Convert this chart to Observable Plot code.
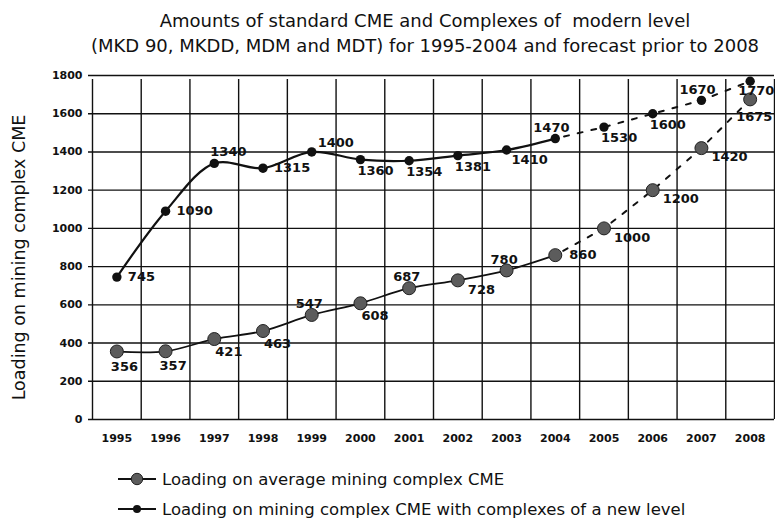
<!DOCTYPE html>
<html>
<head>
<meta charset="utf-8">
<script src="https://cdn.jsdelivr.net/npm/d3@7"></script>
<script src="https://cdn.jsdelivr.net/npm/@observablehq/plot@0.6"></script>
<style>
  body { margin: 0; background: #fff; font-family: "DejaVu Sans", sans-serif; color: #111; }
  #title { width: 775px; height: 58px; box-sizing: border-box; padding: 8px 0 0 75px; text-align: center; font-size: 18px; line-height: 25px; white-space: pre; }
  #legend { padding-top: 16px; }
  .item { display: flex; align-items: center; height: 30px; font-size: 16.5px; }
  .item svg { margin-left: 118px; margin-right: 5px; }
</style>
</head>
<body>
<div id="title">Amounts of standard CME and Complexes of  modern level
(MKD 90, MKDD, MDM and MDT) for 1995-2004 and forecast prior to 2008</div>
<div id="chart"></div>
<div id="legend"></div>
<script>
// ---- data ----
const years = [1995, 1996, 1997, 1998, 1999, 2000, 2001, 2002, 2003, 2004, 2005, 2006, 2007, 2008];
const avgLoad = [356, 357, 421, 463, 547, 608, 687, 728, 780, 860, 1000, 1200, 1420, 1675];
const newLoad = [745, 1090, 1340, 1315, 1400, 1360, 1354, 1381, 1410, 1470, 1530, 1600, 1670, 1770];
const lastActual = 2004;
const yTicks = [0, 200, 400, 600, 800, 1000, 1200, 1400, 1600, 1800];
const seriesNames = ["Loading on average mining complex CME", "Loading on mining complex CME with complexes of a new level"];
const yLabel = "Loading on mining complex CME";

// ---- label placement (layout) ----
const placeAvg = ["b", "b", "bs", "bs", "a", "bs", "a", "br", "a", "r", "br", "br", "br", "be"];
const placeNew = ["r", "r", "a", "r", "ar", "b", "b", "b", "br", "al", "b", "b", "al", "bl"];
const offsAvg = { b: [-6, 15], bs: [1, 13], a: [-16, -11], br: [10, 9], r: [14, 0], be: [-14, 17] };
const offsNew = { r: [11, 0], a: [-4, -12], ar: [6, -9], b: [-3, 11], br: [5, 10], al: [-22, -11], bl: [-12, 10] };

const rows = years.map((year, i) => ({ year, avg: avgLoad[i], nw: newLoad[i], pa: placeAvg[i], pn: placeNew[i] }));
const actual = rows.filter(d => d.year <= lastActual);
const forecast = rows.filter(d => d.year >= lastActual);
const bounds = years.map(y => y - 0.5).concat([years[years.length - 1] + 0.5]);

const labelMarks = [];
for (const [k, [dx, dy]] of Object.entries(offsAvg)) {
  labelMarks.push(Plot.text(rows.filter(d => d.pa === k), { x: "year", y: "avg", text: d => String(d.avg), dx, dy, textAnchor: "start", lineAnchor: "middle", fontSize: 13, fontWeight: "bold", fill: "#111" }));
}
for (const [k, [dx, dy]] of Object.entries(offsNew)) {
  labelMarks.push(Plot.text(rows.filter(d => d.pn === k), { x: "year", y: "nw", text: d => String(d.nw), dx, dy, textAnchor: "start", lineAnchor: "middle", fontSize: 13, fontWeight: "bold", fill: "#111" }));
}

const chart = Plot.plot({
  width: 775,
  height: 390,
  marginLeft: 92,
  marginRight: 1,
  marginTop: 17,
  marginBottom: 29,
  style: { fontFamily: "DejaVu Sans", color: "#111", background: "#fff" },
  x: { domain: [bounds[0], bounds[bounds.length - 1]] },
  y: { domain: [0, 1800] },
  marks: [
    Plot.ruleY(yTicks, { x1: bounds[0], x2: bounds[bounds.length - 1], insetLeft: -4, stroke: "#111", strokeWidth: 1.4 }),
    Plot.ruleX(bounds, { y1: 0, y2: 1800, insetBottom: -4, stroke: "#111", strokeWidth: 1.4 }),
    Plot.line(actual, { x: "year", y: "nw", curve: "catmull-rom", stroke: "#111", strokeWidth: 2.2 }),
    Plot.line(actual, { x: "year", y: "avg", curve: "catmull-rom", stroke: "#111", strokeWidth: 1.8 }),
    Plot.line(forecast, { x: "year", y: "nw", stroke: "#111", strokeWidth: 2, strokeDasharray: "5 9", strokeDashoffset: 5 }),
    Plot.line(forecast, { x: "year", y: "avg", stroke: "#111", strokeWidth: 2, strokeDasharray: "5 9", strokeDashoffset: 5 }),
    Plot.dot(rows, { x: "year", y: "avg", r: 6.5, fill: "#5c5c5c", stroke: "#222", strokeWidth: 1 }),
    Plot.dot(rows, { x: "year", y: "nw", r: 4.7, fill: "#111" }),
    ...labelMarks,
    Plot.axisX({ ticks: years, tickSize: 0, tickPadding: 15, tickFormat: d => String(d), fontSize: 11, fontWeight: "bold", label: null }),
    Plot.axisY({ ticks: yTicks, tickSize: 0, tickPadding: 10, tickFormat: d => String(d), fontSize: 11, fontWeight: "bold", label: null }),
    Plot.text([yLabel], { frameAnchor: "left", dx: -73, dy: 10, rotate: -90, textAnchor: "middle", lineAnchor: "middle", fontSize: 17.5, fill: "#111" })
  ]
});
document.getElementById("chart").appendChild(chart);

// ---- legend ----
const legend = document.getElementById("legend");
const swatches = [
  { r: 5.7, fill: "#5c5c5c", stroke: "#222" },
  { r: 4, fill: "#111", stroke: "none" }
];
seriesNames.forEach((name, i) => {
  const s = swatches[i];
  const div = document.createElement("div");
  div.className = "item";
  div.innerHTML = `<svg width="39" height="14"><line x1="0" y1="7" x2="38" y2="7" stroke="#111" stroke-width="2"/><circle cx="19" cy="7" r="${s.r}" fill="${s.fill}" stroke="${s.stroke}"/></svg><span>${name}</span>`;
  legend.appendChild(div);
});
</script>
</body>
</html>
